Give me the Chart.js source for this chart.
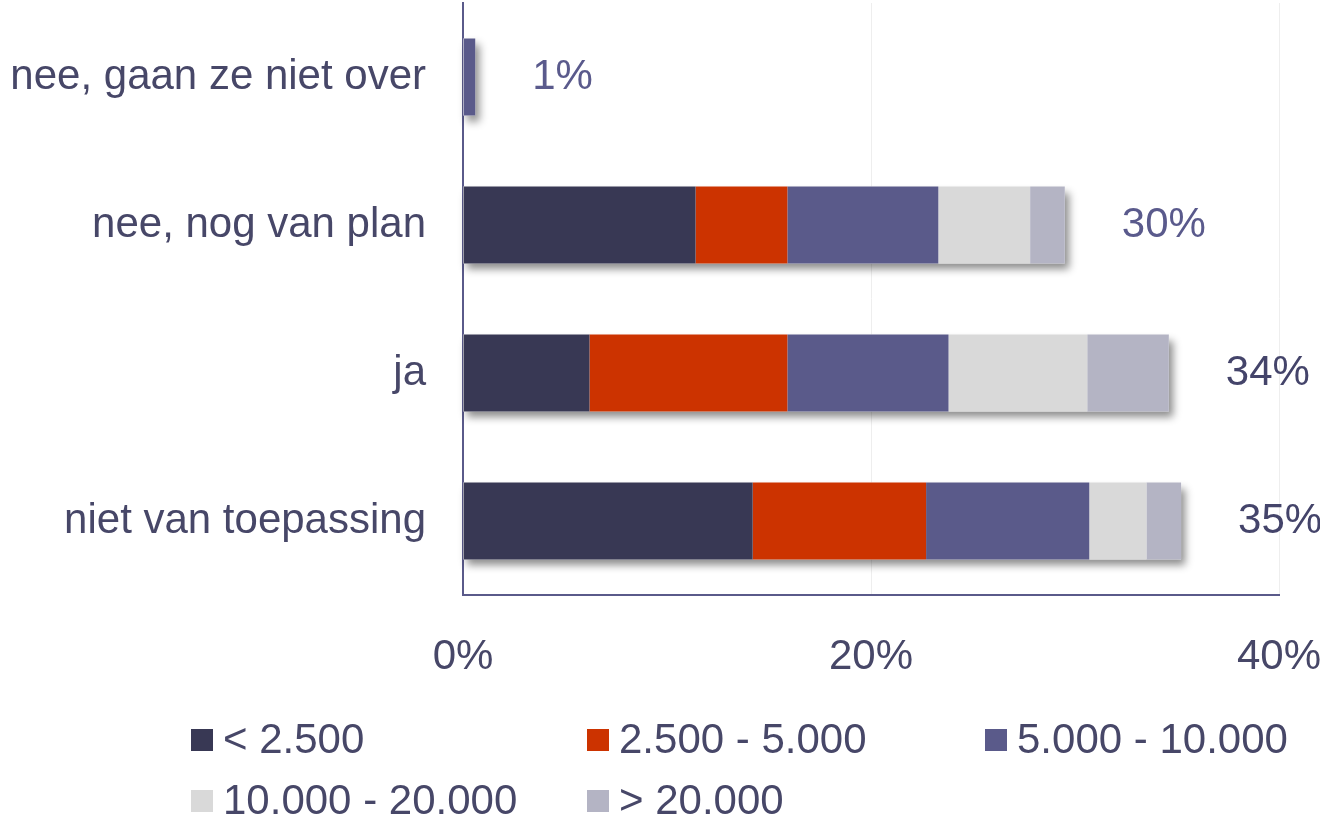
<!DOCTYPE html>
<html>
<head>
<meta charset="utf-8">
<script src="https://cdn.jsdelivr.net/npm/chart.js@4.4.1/dist/chart.umd.min.js"></script>
<style>
  html, body { margin: 0; padding: 0; background: #fff; }
  #wrap { width: 1320px; height: 819px; position: relative; }
</style>
</head>
<body>
<div id="wrap"><canvas id="myChart"></canvas></div>
<script>
'use strict';

const categories = ['nee, gaan ze niet over', 'nee, nog van plan', 'ja', 'niet van toepassing'];
const seriesNames = ['< 2.500', '2.500 - 5.000', '5.000 - 10.000', '10.000 - 20.000', '> 20.000'];
const under2500 = [0, 11.4, 6.2, 14.2];
const from2500to5000 = [0, 4.5, 9.7, 8.5];
const from5000to10000 = [0.6, 7.4, 7.9, 8.0];
const from10000to20000 = [0, 4.5, 6.8, 2.8];
const over20000 = [0, 1.7, 4.0, 1.7];
const totalLabels = ['1%', '30%', '34%', '35%'];
const xTicks = [0, 20, 40];

const colors = ['#383854', '#cc3300', '#5a5a8a', '#d9d9d9', '#b4b4c4'];
const totalColors = ['#5a5a8c', '#5a5a8c', '#44446a', '#44446a'];
const textColor = '#474768';
const font = 'Liberation Sans, Arial, sans-serif';

const seriesValues = [under2500, from2500to5000, from5000to10000, from10000to20000, over20000];

// shadow behind each whole bar
const barShadow = {
  id: 'barShadow',
  beforeDatasetsDraw(chart) {
    const ctx = chart.ctx;
    const x = chart.scales.x;
    const meta = chart.getDatasetMeta(0);
    ctx.save();
    ctx.shadowColor = 'rgba(0,0,0,0.45)';
    ctx.shadowBlur = 8;
    ctx.shadowOffsetX = 4;
    ctx.shadowOffsetY = 6;
    ctx.fillStyle = '#ffffff';
    for (let i = 0; i < categories.length; i++) {
      let total = 0;
      for (let s = 0; s < seriesValues.length; s++) total += seriesValues[s][i];
      const bar = meta.data[i];
      const x0 = x.getPixelForValue(0);
      const x1 = x.getPixelForValue(total);
      ctx.fillRect(x0, bar.y - bar.height / 2, x1 - x0, bar.height);
    }
    ctx.restore();
  }
};

// total labels right of bars
const totals = {
  id: 'totals',
  afterDatasetsDraw(chart) {
    const ctx = chart.ctx;
    const x = chart.scales.x;
    const meta = chart.getDatasetMeta(0);
    ctx.save();
    ctx.font = '42px ' + font;
    ctx.textAlign = 'left';
    ctx.textBaseline = 'middle';
    for (let i = 0; i < categories.length; i++) {
      let total = 0;
      for (let s = 0; s < seriesValues.length; s++) total += seriesValues[s][i];
      ctx.fillStyle = totalColors[i];
      ctx.fillText(totalLabels[i], x.getPixelForValue(total) + 57, meta.data[i].y);
    }
    ctx.restore();
  }
};

// grid-like legend at the bottom
const gridLegend = {
  id: 'gridLegend',
  afterDraw(chart) {
    const ctx = chart.ctx;
    const colX = [191, 587, 985];
    const rowY = [740, 801];
    ctx.save();
    ctx.font = '42px ' + font;
    ctx.textAlign = 'left';
    ctx.textBaseline = 'middle';
    chart.data.datasets.forEach(function(ds, i) {
      const cx = colX[i % 3];
      const cy = rowY[Math.floor(i / 3)];
      ctx.fillStyle = ds.backgroundColor;
      ctx.fillRect(cx, cy - 11, 22, 22);
      ctx.fillStyle = textColor;
      ctx.fillText(ds.label, cx + 32, cy + 1);
    });
    ctx.restore();
  }
};

const ctx = document.getElementById('myChart').getContext('2d');
new Chart(ctx, {
  type: 'bar',
  data: {
    labels: categories,
    datasets: seriesNames.map(function(name, i) {
      return {
        label: name,
        data: seriesValues[i],
        backgroundColor: colors[i],
        borderWidth: 0,
        barPercentage: 0.52,
        categoryPercentage: 1
      };
    })
  },
  options: {
    indexAxis: 'y',
    responsive: true,
    maintainAspectRatio: false,
    animation: false,
    layout: { padding: { left: 0, right: 41, top: 3, bottom: 124 } },
    plugins: {
      legend: { display: false },
      tooltip: { enabled: false }
    },
    scales: {
      x: {
        stacked: true,
        min: 0,
        max: 40,
        afterBuildTicks(scale) {
          scale.ticks = xTicks.map(v => ({ value: v }));
        },
        afterFit(scale) {
          scale.height = 100;
          scale.paddingLeft = 0;
          scale.paddingRight = 0;
          scale.paddingTop = 0;
          scale.paddingBottom = 0;
        },
        ticks: {
          callback: v => v + '%',
          color: textColor,
          font: { family: font, size: 42 },
          padding: 37,
          maxRotation: 0
        },
        grid: { color: '#eeeeee', drawTicks: false, lineWidth: 1 },
        border: { color: '#5a5a8a', width: 2 }
      },
      y: {
        stacked: true,
        afterFit(scale) {
          scale.width = 463;
          scale.paddingLeft = 0;
          scale.paddingRight = 0;
          scale.paddingTop = 0;
          scale.paddingBottom = 0;
        },
        ticks: {
          color: textColor,
          font: { family: font, size: 42 },
          padding: 29
        },
        grid: { display: false },
        border: { display: true, color: '#5a5a8a', width: 2 }
      }
    }
  },
  plugins: [barShadow, totals, gridLegend]
});
</script>
</body>
</html>
